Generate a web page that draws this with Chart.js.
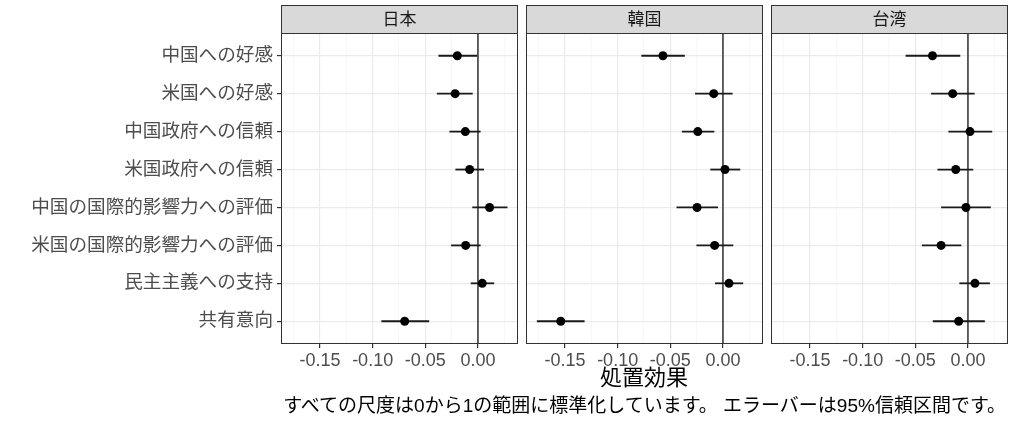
<!DOCTYPE html>
<html>
<head>
<meta charset="utf-8">
<script src="https://cdn.jsdelivr.net/npm/chart.js@4"></script>
<style>
  body { margin: 0; background: #fff; }
  #wrap { position: relative; width: 1016px; height: 423px; font-family: "Liberation Sans", "Noto Sans CJK JP", sans-serif; }
  canvas { position: absolute; top: 0; }
  .lbl { position: absolute; white-space: nowrap; line-height: 1; }
</style>
</head>
<body>
<div id="wrap">
  <canvas id="c1" width="519" height="423" style="left:0px"></canvas>
  <canvas id="c2" width="245" height="423" style="left:519px"></canvas>
  <canvas id="c3" width="245" height="423" style="left:764px"></canvas>
  <div class="lbl" style="left:444px;width:400px;text-align:center;top:367px;font-size:22px;color:#000">処置効果</div>
  <div class="lbl" style="right:10px;top:396px;font-size:19px;color:#000">すべての尺度は0から1の範囲に標準化しています。 エラーバーは95%信頼区間です。</div>
</div>
<script>
// categories (top to bottom)
const categories = ['中国への好感', '米国への好感', '中国政府への信頼', '米国政府への信頼',
  '中国の国際的影響力への評価', '米国の国際的影響力への評価', '民主主義への支持', '共有意向'];
const panels = ['日本', '韓国', '台湾'];

// 日本
const japanEst  = [-0.0196, -0.0217, -0.0120, -0.0079,  0.0110, -0.0117,  0.0041, -0.0696];
const japanLow  = [-0.0375, -0.0390, -0.0271, -0.0214, -0.0054, -0.0255, -0.0069, -0.0917];
const japanHigh = [-0.0007, -0.0050,  0.0025,  0.0057,  0.0280,  0.0025,  0.0154, -0.0463];
// 韓国
const koreaEst  = [-0.0570, -0.0088, -0.0239,  0.0019, -0.0246, -0.0079,  0.0057, -0.1540];
const koreaLow  = [-0.0775, -0.0265, -0.0390, -0.0120, -0.0441, -0.0252, -0.0076, -0.1767];
const koreaHigh = [-0.0362,  0.0091, -0.0082,  0.0164, -0.0047,  0.0098,  0.0192, -0.1314];
// 台湾
const taiwanEst  = [-0.0337, -0.0145,  0.0019, -0.0116, -0.0019, -0.0255,  0.0066, -0.0088];
const taiwanLow  = [-0.0592, -0.0350, -0.0186, -0.0290, -0.0255, -0.0438, -0.0082, -0.0334];
const taiwanHigh = [-0.0073,  0.0063,  0.0230,  0.0050,  0.0217, -0.0063,  0.0208,  0.0160];

// x axis ticks
const xMajor = [-0.15, -0.10, -0.05, 0.00];
const xMinor = [-0.175, -0.125, -0.075, -0.025, 0.025];
const xMin = -0.187, xMax = 0.038;

const isMajor = v => xMajor.some(m => Math.abs(m - v) < 1e-9);

// facet strip + panel border
const panelBox = {
  id: 'panelBox',
  afterDraw(chart, args, opts) {
    const a = chart.chartArea, ctx = chart.ctx;
    ctx.save();
    ctx.fillStyle = '#D9D9D9';
    ctx.fillRect(a.left, 5, a.right - a.left, a.top - 5);
    ctx.strokeStyle = '#333333';
    ctx.lineWidth = 1;
    ctx.strokeRect(a.left + 0.5, 5.5, a.right - a.left - 1, a.top - 5);
    ctx.strokeRect(a.left + 0.5, a.top + 0.5, a.right - a.left - 1, a.bottom - a.top - 1);
    ctx.fillStyle = '#1A1A1A';
    ctx.font = '17px "Liberation Sans", "Noto Sans CJK JP"';
    ctx.textAlign = 'center';
    ctx.textBaseline = 'middle';
    ctx.fillText(opts.title, (a.left + a.right) / 2, (5 + a.top) / 2 + 1);
    ctx.restore();
  }
};

function makePanel(id, title, est, low, high, showY) {
  const pts = {
    data: est.map((v, i) => ({x: v, y: i + 1})),
    pointRadius: 4.5,
    pointBackgroundColor: '#000',
    pointBorderWidth: 0,
    showLine: false
  };
  const bars = categories.map((c, i) => ({
    data: [{x: low[i], y: i + 1}, {x: high[i], y: i + 1}],
    showLine: true,
    borderColor: '#1A1A1A',
    borderWidth: 1.8,
    pointRadius: 0
  }));
  const vline = {
    data: [{x: 0, y: 0.4}, {x: 0, y: 8.6}],
    showLine: true,
    borderColor: '#000',
    borderWidth: 1.2,
    pointRadius: 0
  };

  new Chart(document.getElementById(id), {
    type: 'scatter',
    data: { datasets: [pts, ...bars, vline] },
    plugins: [panelBox],
    options: {
      responsive: false,
      animation: false,
      layout: { autoPadding: false, padding: { top: 33, bottom: 0, left: showY ? 0 : 7, right: 1 } },
      plugins: {
        legend: { display: false },
        tooltip: { enabled: false },
        panelBox: { title: title }
      },
      scales: {
        x: {
          type: 'linear',
          min: xMin,
          max: xMax,
          afterBuildTicks: axis => {
            axis.ticks = [...xMinor, ...xMajor].sort((a, b) => a - b).map(v => ({value: v}));
          },
          afterFit: s => { s.height = 79; },
          border: { display: false },
          grid: {
            color: c => isMajor(c.tick.value) ? '#EBEBEB' : '#F3F3F3',
            lineWidth: c => isMajor(c.tick.value) ? 1.2 : 0.7,
            tickColor: c => isMajor(c.tick.value) ? '#333333' : 'rgba(0,0,0,0)',
            tickLength: 4
          },
          ticks: {
            autoSkip: false,
            maxRotation: 0,
            minRotation: 0,
            padding: 2,
            color: '#4D4D4D',
            font: { family: '"Liberation Sans", "Noto Sans CJK JP"', size: 18 },
            callback: v => isMajor(v) ? v.toFixed(2) : ''
          }
        },
        y: {
          type: 'linear',
          reverse: true,
          min: 0.4,
          max: 8.6,
          afterBuildTicks: axis => {
            axis.ticks = categories.map((c, i) => ({value: i + 1}));
          },
          afterFit: s => { s.width = showY ? 281 : 0; },
          border: { display: false },
          grid: {
            color: '#EBEBEB',
            lineWidth: 1.2,
            drawTicks: showY,
            tickColor: '#333333',
            tickLength: 4
          },
          ticks: {
            display: showY,
            autoSkip: false,
            padding: 4,
            color: '#4D4D4D',
            font: { family: '"Liberation Sans", "Noto Sans CJK JP"', size: 18.6 },
            callback: v => categories[Math.round(v) - 1] || ''
          }
        }
      }
    }
  });
}

makePanel('c1', panels[0], japanEst, japanLow, japanHigh, true);
makePanel('c2', panels[1], koreaEst, koreaLow, koreaHigh, false);
makePanel('c3', panels[2], taiwanEst, taiwanLow, taiwanHigh, false);
</script>
</body>
</html>
